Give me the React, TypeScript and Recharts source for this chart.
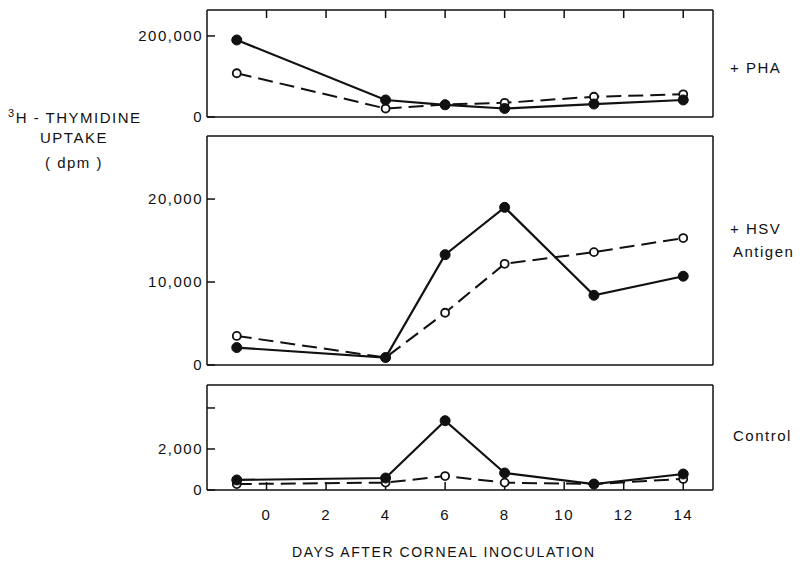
// Captação de timidina: três painéis empilhados (PHA, antígeno HSV, controle)
import React from "react";
import { LineChart, Line, XAxis, YAxis } from "recharts";

const DIAS = [-1, 4, 6, 8, 11, 14];
const DIAS_TICKS = [0, 2, 4, 6, 8, 10, 12, 14];

const PHA_CHEIO = [190000, 42000, 30000, 21000, 32000, 42000];
const PHA_ABERTO = [108000, 21000, 31000, 35000, 50000, 56000];

const HSV_CHEIO = [2100, 900, 13300, 19000, 8400, 10700];
const HSV_ABERTO = [3500, 900, 6300, 12200, 13600, 15300];

const CTRL_CHEIO = [490, 585, 3380, 830, 290, 780];
const CTRL_ABERTO = [290, 360, 680, 360, 290, 540];

const FONTE = "'Liberation Sans', Arial, sans-serif";
const COR = "#111";
const MARCA = 8;

const montar = (cheio: number[], aberto: number[]) =>
  DIAS.map((d, i) => ({ dia: d, cheio: cheio[i], aberto: aberto[i] }));

const formatar = (v: number) => v.toLocaleString("en-US");

// tick "vazio": mantém a marca, sem texto
const semTexto = () => <g />;

interface PainelProps {
  dados: { dia: number; cheio: number; aberto: number }[];
  top: number;
  height: number;
  margin: { top: number; bottom: number };
  dominio: [number, number];
  ticks: number[];
  rotulos: number[];
  ticksTopo?: boolean;
  ticksBase?: boolean;
  direita?: boolean;
}

function Painel({ dados, top, height, margin, dominio, ticks, rotulos, ticksTopo, ticksBase, direita }: PainelProps) {
  const tickStyle = { fontSize: 15, fill: COR, fontFamily: FONTE, letterSpacing: 1.5 };
  const eixo = { stroke: COR, strokeWidth: 1.5 };

  // rótulo + marca para dentro (eixo esquerdo fica 4px à direita do texto)
  const tickEsq = (p: any) => {
    const v = p.payload.value;
    return (
      <g>
        <line x1={p.x + 4} x2={p.x + 4 + MARCA} y1={p.y} y2={p.y} stroke={COR} strokeWidth={1.5} />
        {rotulos.includes(v) && (
          <text x={p.x} y={p.y} dy="0.355em" textAnchor="end" {...tickStyle}>
            {formatar(v)}
          </text>
        )}
      </g>
    );
  };

  const tickDir = (p: any) =>
    direita ? <line x1={p.x - MARCA} x2={p.x} y1={p.y} y2={p.y} stroke={COR} strokeWidth={1.5} /> : <g />;

  return (
    <div style={{ position: "absolute", left: 0, top }}>
      <LineChart width={804} height={height} data={dados} margin={{ top: margin.top, bottom: margin.bottom, left: 0, right: 0 }}>
        {/* borda superior, com marcas para dentro no painel de cima */}
        <XAxis
          xAxisId="topo"
          orientation="top"
          mirror
          type="number"
          dataKey="dia"
          domain={[-2, 15]}
          ticks={DIAS_TICKS}
          interval={0}
          tick={semTexto}
          tickLine={ticksTopo ? eixo : false}
          tickSize={MARCA}
          axisLine={eixo}
        />
        {/* borda inferior (marcas) */}
        <XAxis
          xAxisId="base"
          orientation="bottom"
          mirror
          type="number"
          dataKey="dia"
          domain={[-2, 15]}
          ticks={DIAS_TICKS}
          interval={0}
          tick={semTexto}
          tickLine={ticksBase ? eixo : false}
          tickSize={MARCA}
          axisLine={eixo}
        />
        {/* rótulos dos dias */}
        {ticksBase && (
          <XAxis
            xAxisId="rotulos"
            orientation="bottom"
            type="number"
            dataKey="dia"
            domain={[-2, 15]}
            ticks={DIAS_TICKS}
            interval={0}
            height={40}
            tick={tickStyle}
            tickLine={false}
            tickSize={0}
            tickMargin={19}
            axisLine={false}
          />
        )}
        <YAxis
          yAxisId="esq"
          orientation="left"
          width={207}
          domain={dominio}
          ticks={ticks}
          interval={0}
          tickSize={0}
          tickMargin={4}
          tickLine={false}
          tick={tickEsq}
          axisLine={eixo}
        />
        <YAxis
          yAxisId="dir"
          orientation="right"
          width={91}
          domain={dominio}
          ticks={ticks}
          interval={0}
          tickSize={0}
          tickMargin={0}
          tickLine={false}
          tick={tickDir}
          axisLine={eixo}
        />
        <Line
          xAxisId="base"
          yAxisId="esq"
          dataKey="aberto"
          stroke={COR}
          strokeWidth={2}
          strokeDasharray="15 7"
          dot={{ r: 4, fill: "#fff", stroke: COR, strokeWidth: 1.8, strokeDasharray: "0" }}
          isAnimationActive={false}
        />
        <Line
          xAxisId="base"
          yAxisId="esq"
          dataKey="cheio"
          stroke={COR}
          strokeWidth={2.2}
          dot={{ r: 5, fill: COR, stroke: COR, strokeWidth: 1 }}
          isAnimationActive={false}
        />
      </LineChart>
    </div>
  );
}

const rotulo = (left: number, top: number, texto: React.ReactNode, extra: React.CSSProperties = {}) => (
  <div
    style={{
      position: "absolute",
      left,
      top,
      fontFamily: FONTE,
      fontSize: 15,
      letterSpacing: 1.5,
      color: COR,
      whiteSpace: "nowrap",
      lineHeight: "18px",
      ...extra,
    }}
  >
    {texto}
  </div>
);

export default function App() {
  return (
    <div style={{ position: "absolute", left: 0, top: 0, width: 804, height: 566, background: "#fff" }}>
      <Painel
        dados={montar(PHA_CHEIO, PHA_ABERTO)}
        top={0}
        height={130}
        margin={{ top: 10, bottom: 13 }}
        dominio={[0, 264000]}
        ticks={[0, 200000]}
        rotulos={[0, 200000]}
        ticksTopo
      />
      <Painel
        dados={montar(HSV_CHEIO, HSV_ABERTO)}
        top={130}
        height={250}
        margin={{ top: 6, bottom: 15 }}
        dominio={[0, 27600]}
        ticks={[0, 10000, 20000]}
        rotulos={[0, 10000, 20000]}
        direita
      />
      <Painel
        dados={montar(CTRL_CHEIO, CTRL_ABERTO)}
        top={375}
        height={191}
        margin={{ top: 10, bottom: 36 }}
        dominio={[0, 5120]}
        ticks={[0, 2000, 4000]}
        rotulos={[0, 2000]}
        ticksBase
        direita
      />

      {rotulo(8, 104, (
        <>
          <span style={{ fontSize: 11, verticalAlign: "super" }}>3</span>H - THYMIDINE
        </>
      ))}
      {rotulo(40, 129, "UPTAKE")}
      {rotulo(45, 154, "( dpm )")}

      {rotulo(730, 59, "+ PHA")}
      {rotulo(730, 220, "+ HSV")}
      {rotulo(733, 243, "Antigen")}
      {rotulo(733, 427, "Control")}

      {rotulo(292, 543, "DAYS AFTER CORNEAL INOCULATION", { fontSize: 14, letterSpacing: 1.6 })}
    </div>
  );
}
